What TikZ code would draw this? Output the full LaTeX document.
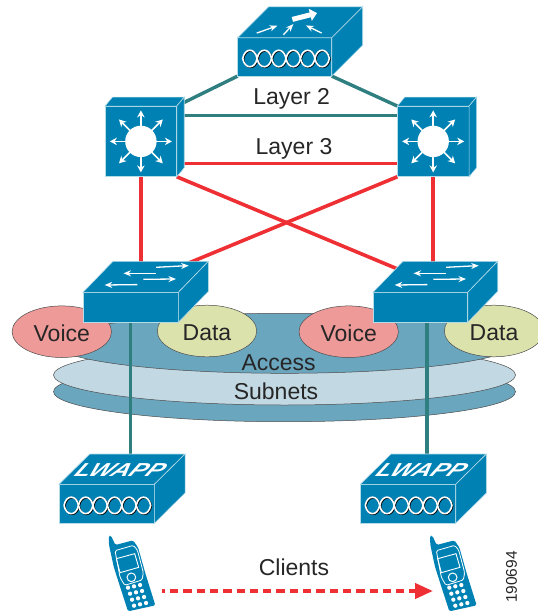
\documentclass[tikz,border=0pt]{standalone}
\usepackage{fontspec}
\setmainfont{Liberation Sans}
\usetikzlibrary{arrows.meta, backgrounds, calc, shapes.geometric}
\definecolor{devblue}{HTML}{0081B4}
\definecolor{devedge}{HTML}{B4DCE8}
\definecolor{discdark}{HTML}{6BA6BF}
\definecolor{disclight}{HTML}{C2D8E2}
\definecolor{linkteal}{HTML}{2F7F80}
\definecolor{linkred}{HTML}{EE3034}
\definecolor{voicered}{HTML}{EE9A98}
\definecolor{datagreen}{HTML}{DCE2AC}
% top and side faces of a device, #2 and #3 give the depth
\newcommand\Boxfaces[3]{%
  \filldraw[devface] (#1.north west) -- ++(#2,#3) -- ($(#1.north east)+(#2,#3)$)
    -- (#1.north east) -- cycle;
  \filldraw[devface] (#1.north east) -- ++(#2,#3) -- ($(#1.south east)+(#2,#3)$)
    -- (#1.south east) -- cycle;}
% chain of six rings on the front face
\newcommand\Rings[1]{%
  \begin{scope}[shift={(#1.west)}, xshift=5pt, yshift=-1.6pt]
    \foreach \i in {0,...,5} {
      \begin{scope}[xshift=\i*14.45pt]
        \draw[black, line width=1.4pt, xshift=.8pt, yshift=-.7pt]
          (0,0) .. controls (2,-11) and (12.4,-11) .. (14.4,0)
          .. controls (12.4,11) and (2,11) .. (0,0);
        \draw[white, line width=1.6pt]
          (0,0) .. controls (2,-11) and (12.4,-11) .. (14.4,0)
          .. controls (12.4,11) and (2,11) .. (0,0);
      \end{scope}
    }
  \end{scope}}
% arrows of a layer 3 switch
\newcommand\Star[1]{%
  \foreach \a in {0,45,...,315} {
    \draw[starrow] (#1.center) -- ++(\a:31);
  }
  \fill[white] (#1.center) circle (15.7pt);}
% arrows on top of an access switch
\newcommand\Swarrows[1]{%
  \begin{scope}[shift={(#1.north west)}]
    \draw[swarrow] (73.1,-25) -- (105.7,-26.7);
    \draw[swarrow] (73.1,-19) -- (40.5,-19);
    \draw[swarrow] (60.4,-13) -- (93,-13.3);
    \draw[swarrow] (54.3,-7.7) -- (21.7,-7.3);
  \end{scope}}
% handset, coordinates in thirds of a pixel
\newcommand\Handset[1]{%
  \begin{scope}[shift={(#1.center)}, x=.3333pt, y=-.3333pt]
    \begin{scope}[shift={(-110,-135)}]
      \fill[devblue, rounded corners=1.5pt] (26,17) -- (33,17) -- (46,45) -- (99,31)
        -- (114,52) -- (136,130) -- (166,226) -- (84,244) -- (60,170) -- (41,110)
        -- (27,45) -- cycle;
      \draw[white, line width=.8pt, rounded corners=1.5pt] (45,62) -- (100,46)
        -- (112,60) -- (130,128) -- (126,150) -- (74,166) -- (60,142) -- cycle;
      \draw[white, line width=.9pt] (49,86) -- (104,71) -- (116,112) -- (60,128) -- cycle;
      \draw[white, line width=1pt] (94,142) circle (13);
      \foreach \r in {0,...,3} {
        \foreach \c in {0,1,2} {
          \fill[white] (84+\c*18+\r*6,173-\c*4+\r*18) circle (6.4);
        }
      }
    \end{scope}
  \end{scope}}
\begin{document}
\begin{tikzpicture}[x=1pt, y=-1pt,
devface/.style={fill=devblue, draw=devedge, line width=.6pt},
frontbox/.style={
  rectangle, devface, inner sep=0pt, outer sep=0pt
},
handbox/.style={
  rectangle, inner sep=0pt, outer sep=0pt,
  minimum width=50pt, minimum height=70pt
},
label/.style={font=\fontsize{23}{26}\selectfont, text=black!85},
disc/.style={
  ellipse, draw=black!70, line width=.5pt,
  minimum width=462pt, minimum height=60pt, inner sep=0pt
},
subnet/.style={
  ellipse, draw=black!70, line width=.5pt,
  minimum width=99.4pt, minimum height=51.6pt, inner sep=0pt,
  text height=19pt,
  font=\fontsize{23}{26}\selectfont, text=black!85
},
tealline/.style={linkteal, line width=3.4pt},
redline/.style={linkred, line width=3.6pt},
starrow/.style={white, line width=1.6pt, -{Stealth[length=7pt, width=7.5pt]}},
swarrow/.style={white, line width=1.3pt, -{Stealth[length=7.5pt, width=6pt]}},
lwapp/.style={
  font=\fontsize{25}{26}\selectfont\bfseries\itshape, text=white, inner sep=0pt,
  xslant=.65, yscale=.75, transform shape
}]
\useasboundingbox (0,0) rectangle (538,611);

% devices
\node (router) [frontbox, minimum width=94pt, minimum height=38.3pt] at (284.7,56.9) {};
\node (dist1) [frontbox, minimum width=71.7pt, minimum height=70.7pt] at (140.9,141.4) {};
\node (dist2) [frontbox, minimum width=71.7pt, minimum height=70.7pt] at (433.2,141.4) {};
\node (acc1) [frontbox, minimum width=95.4pt, minimum height=30pt] at (130.7,307.3) {};
\node (acc2) [frontbox, minimum width=94.7pt, minimum height=30pt] at (420.4,307.3) {};
\node (ap1) [frontbox, minimum width=95.3pt, minimum height=39pt] at (106.7,503.8) {};
\node (ap2) [frontbox, minimum width=95.4pt, minimum height=39pt] at (408,503.8) {};
\node (phone1) [handbox] at (136.7,575) {};
\node (phone2) [handbox] at (458,575) {};
\coordinate (acc1top) at (150,279);
\coordinate (acc2top) at (412,275);
\coordinate (acc2foot) at (427,322);
\coordinate (arrowrow) at (0,591);

\Boxfaces{router}{31}{-31}
\Boxfaces{dist1}{7.5}{-9}
\Boxfaces{dist2}{7.5}{-9}
\Boxfaces{acc1}{30}{-31}
\Boxfaces{acc2}{30}{-31}
\Boxfaces{ap1}{30.7}{-30.3}
\Boxfaces{ap2}{30.7}{-30.3}

\Rings{router}
\Rings{ap1}
\Rings{ap2}
\Star{dist1}
\Star{dist2}
\Swarrows{acc1}
\Swarrows{acc2}

% arrows on the top of the router
\begin{scope}[shift={(router.north west)}, x=.3333pt, y=-.3333pt]
  \begin{scope}[shift={(-8,-104)}]
    \draw[white, line width=5pt, -{Triangle[length=7pt, width=12pt]}] (172,49) -- (246,30);
    \draw[swarrow] (65,90) -- (127,68);
    \draw[swarrow] (145,95) -- (175,63);
    \draw[swarrow] (260,90) -- (213,67);
  \end{scope}
\end{scope}

\node (lwapp1) [lwapp] at ([xshift=14.3pt, yshift=14.3pt]ap1.north) {LWAPP};
\node (lwapp2) [lwapp] at ([xshift=14.3pt, yshift=14.3pt]ap2.north) {LWAPP};

\Handset{phone1}
\Handset{phone2}

% labels
\node (layertwo) [label] at (291.7,99) {Layer 2};
\node (layerthree) [label] at (294,148.5) {Layer 3};
\node (access) [label] at (278.6,362.5) {Access};
\node (subnets) [label] at (276,391) {Subnets};
\node (clients) [label] at (294,567) {Clients};
\node (figno) [font=\fontsize{15.5}{17}\selectfont, text=black!85, rotate=90] at (511.5,577) {190694};

\begin{pgfonlayer}{background}
  \node (disc3) [disc, fill=discdark] at (284.5,391.7) {};
  \node (disc2) [disc, fill=disclight] at (284.5,375) {};
  \node (disc1) [disc, fill=discdark] at (284.5,343.3) {};
  \node (voice1) [subnet, fill=voicered] at (61.8,331.7) {Voice};
  \node (data1) [subnet, fill=datagreen] at (207,331) {Data};
  \node (voice2) [subnet, fill=voicered] at (348.7,331.7) {Voice};
  \node (data2) [subnet, fill=datagreen] at (494,331) {Data};

  \draw[tealline] (router.south west) -- (dist1.north east);
  \draw[tealline] (router.south east) -- (dist2.north west);
  \draw[tealline] ([yshift=25.7pt]dist1.east) -- ([yshift=25.7pt]dist2.west);
  \draw[tealline] (acc1.south) -- (acc1.south |- ap1.north);
  \draw[tealline] (acc2foot) -- (acc2foot |- ap2.north);
  \draw[redline] ([yshift=-21.9pt]dist1.east) -- ([yshift=-21.9pt]dist2.west);
  \draw[redline] (dist1.south east) -- (acc2top);
  \draw[redline] (dist2.south west) -- (acc1top);
  \draw[redline] (dist1.south) -- (dist1.south |- acc1.north);
  \draw[redline] (dist2.south) -- (dist2.south |- acc2.north);
\end{pgfonlayer}

\draw[linkred, line width=4pt, dash pattern=on 8.3pt off 5pt, dash phase=5pt,
  -{Triangle[length=18pt, width=15pt]}] (phone1.east |- arrowrow) -- (phone2.west |- arrowrow);
\end{tikzpicture}
\end{document}
